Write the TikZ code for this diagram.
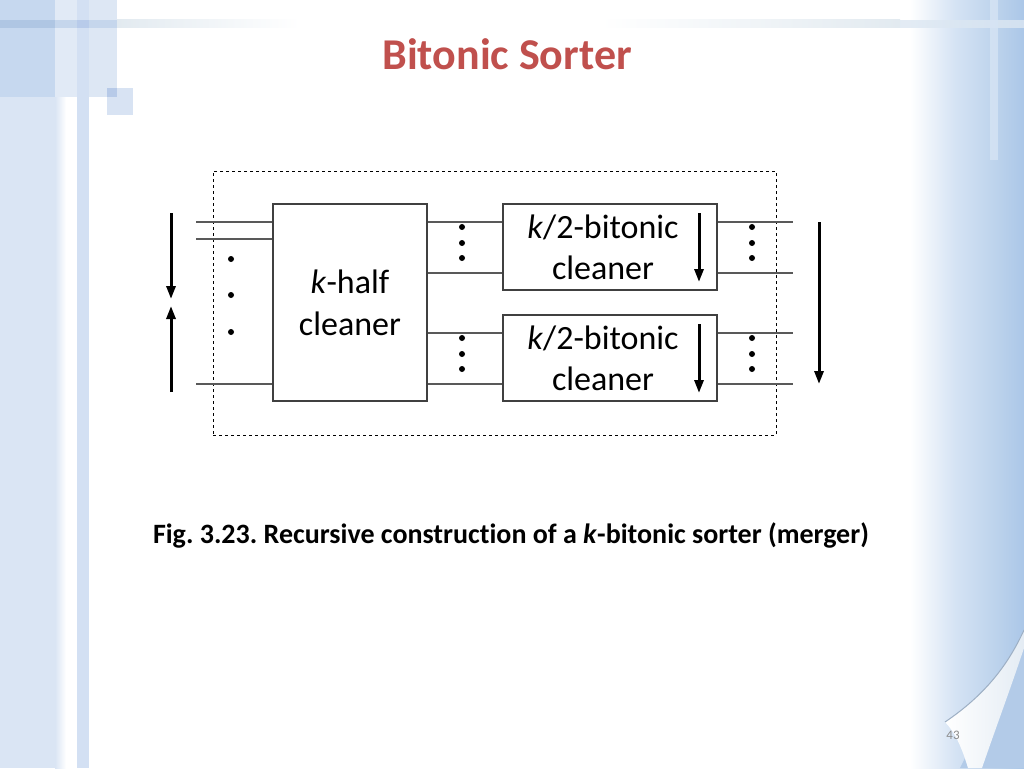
\documentclass[tikz,border=0pt]{standalone}
\usepackage{fontspec}
\setmainfont[Ligatures=CommonOff]{Carlito}
\frenchspacing
\usetikzlibrary{arrows.meta}
\definecolor{titlered}{HTML}{C0504D}
\definecolor{bgA}{HTML}{DAE5F4}
\definecolor{bgAd}{HTML}{C6D8EF}
\definecolor{bgB}{HTML}{E1EAF6}
\definecolor{bgC}{HTML}{D3E0F3}
\definecolor{bgD}{HTML}{DDE7F4}
\definecolor{bgband}{HTML}{AFC6E3}
\definecolor{bgbandm}{HTML}{C5D6EC}
\definecolor{bgbandc}{HTML}{B8CBEA}
\definecolor{bgbandl}{HTML}{E2EAF0}
\definecolor{sqA}{HTML}{D8E3F3}
\definecolor{sqB}{HTML}{B7CAE8}
\definecolor{rbluel}{HTML}{D5E3F4}
\definecolor{rblue}{HTML}{BDD3EC}
\definecolor{rbluedk}{HTML}{ABC7E8}
\definecolor{rband}{HTML}{DCE7F2}
\definecolor{rvert}{HTML}{D6E4F4}
\definecolor{curlbg}{HTML}{B3CBE8}
\definecolor{curlw}{HTML}{E4ECF4}
\definecolor{curlsh}{HTML}{9DAFC4}
\definecolor{wiregray}{HTML}{595959}
\definecolor{boxgray}{HTML}{404040}
\definecolor{pggray}{HTML}{8C8C8C}
\tikzset{
  wire/.style={draw=wiregray, line width=1.3pt},
  box/.style={draw=boxgray, line width=1.3pt, fill=white, inner sep=0pt},
  lbl/.style={font=\fontsize{34}{40}\selectfont, inner sep=0pt, anchor=base},
  bigarrow/.style={line width=3pt, -{Triangle[length=13pt,width=9pt]}},
  dotmark/.style={circle, fill=black, inner sep=0pt, minimum size=6pt},
}
\begin{document}
\begin{tikzpicture}[x=1pt,y=-1pt]
\useasboundingbox (0,0) rectangle (1024,768);
\fill[white] (0,0) rectangle (1024,768);
% ---- left decoration
\fill[bgA] (0,0) rectangle (55,768);
\fill[bgAd] (0,0) rectangle (55,97);
\shade[left color=bgA, right color=white, middle color=white] (55,97) rectangle (77,768);
\fill[bgB] (55,0) rectangle (77,97);
\fill[bgC] (77,0) rectangle (89,768);
\fill[bgD] (89,0) rectangle (117,97);
\fill[bgband] (0,20) rectangle (55,28);
\fill[bgbandm] (55,20) rectangle (117,28);
\fill[bgbandc] (77,20) rectangle (89,28);
\shade[left color=bgbandl, right color=white] (117,20) rectangle (300,28);
\fill[sqA] (107,88) rectangle (133,115);
\fill[sqB] (107,88) rectangle (117,97);
% ---- right decoration
\shade[left color=white, right color=rbluel] (910,0) rectangle (955,768);
\shade[left color=rbluel, right color=rblue] (955,0) rectangle (995,768);
\shade[left color=rblue, right color=rbluedk] (995,0) rectangle (1024,768);
\shade[left color=white, right color=bgbandl] (600,20) rectangle (900,28);
\fill[rband, opacity=0.8] (900,20) rectangle (1024,28);
\fill[rvert, opacity=0.8] (990,0) rectangle (998,160);
% page curl
\fill[curlbg] (960,768) -- (1024,640) -- (1024,768) -- cycle;
\shade[left color=white, right color=curlw]
  (945,722) .. controls (985,695) and (1008,665) .. (1024,630)
  -- (1024,648) .. controls (1010,690) and (995,730) .. (982,768)
  -- (968,768) .. controls (962,748) and (955,732) .. (945,722) -- cycle;
\draw[curlsh, line width=1pt] (945,722) .. controls (985,695) and (1008,665) .. (1024,630);
% ---- title
\node[font=\fontsize{44}{52}\selectfont\bfseries, text=titlered, anchor=base, inner sep=0pt] (title) at (507,69) {Bitonic Sorter};
% ---- dashed frame
\node[draw=black, dashed, line width=0.9pt, minimum width=563pt, minimum height=264pt, inner sep=0pt] (frame) at (494.5,303) {};
% ---- boxes
\node[box, minimum width=154pt, minimum height=197pt] (hc) at (350,302.5) {};
\node[box, minimum width=214pt, minimum height=86pt] (bc1) at (610,247) {};
\node[box, minimum width=214pt, minimum height=86pt] (bc2) at (610,358) {};
\node[lbl] (hct1) at (350,293) {\textit{k}-half};
\node[lbl] (hct2) at (350,335) {cleaner};
\node[lbl] (b1t1) at (603,238) {\textit{k}/2-bitonic};
\node[lbl] (b1t2) at (603,279) {cleaner};
\node[lbl] (b2t1) at (603,349) {\textit{k}/2-bitonic};
\node[lbl] (b2t2) at (603,390) {cleaner};
% ---- wire end coordinates
\coordinate (in1) at (196,222);
\coordinate (in2) at (196,239);
\coordinate (in3) at (196,384);
\coordinate (out1) at (793,222);
\coordinate (out2) at (793,273);
\coordinate (out3) at (793,333);
\coordinate (out4) at (793,384);
% ---- input wires
\draw[wire] (in1) -- (in1 -| hc.west);
\draw[wire] (in2) -- (in2 -| hc.west);
\draw[wire] (in3) -- (in3 -| hc.west);
% ---- middle wires
\draw[wire] (out1 -| hc.east) -- (out1 -| bc1.west);
\draw[wire] (out2 -| hc.east) -- (out2 -| bc1.west);
\draw[wire] (out3 -| hc.east) -- (out3 -| bc2.west);
\draw[wire] (out4 -| hc.east) -- (out4 -| bc2.west);
% ---- output wires
\draw[wire] (out1 -| bc1.east) -- (out1);
\draw[wire] (out2 -| bc1.east) -- (out2);
\draw[wire] (out3 -| bc2.east) -- (out3);
\draw[wire] (out4 -| bc2.east) -- (out4);
% ---- dots
\node[dotmark] (d1) at (231,259) {};
\node[dotmark] (d2) at (231,295) {};
\node[dotmark] (d3) at (231,332) {};
\foreach \x/\n in {462/m, 752/o}{
  \foreach \y/\k in {227/a,243/b,258/c,338/d,354/e,369/f}{
    \node[dotmark] (\n\k) at (\x,\y) {};
  }
}
% ---- arrows
\coordinate (la1) at (171,213); \coordinate (la2) at (171,299);
\coordinate (lb1) at (171,392); \coordinate (lb2) at (171,306);
\coordinate (ra1) at (819,222); \coordinate (ra2) at (819,384);
\coordinate (ia1) at (699,213); \coordinate (ia2) at (699,282);
\coordinate (ib1) at (699,324); \coordinate (ib2) at (699,393);
\draw[bigarrow] (la1) -- (la2);
\draw[bigarrow] (lb1) -- (lb2);
\draw[bigarrow] (ra1) -- (ra2);
\draw[bigarrow] (ia1) -- (ia2);
\draw[bigarrow] (ib1) -- (ib2);
% ---- caption
\node[font=\fontsize{28}{34}\selectfont\bfseries, anchor=base, inner sep=0pt] (cap) at (511,543) {Fig. 3.23. Recursive construction of a \textit{k}-bitonic sorter (merger)};
% ---- page number
\node[font=\fontsize{13}{15}\selectfont, text=pggray, anchor=base, inner sep=0pt] (pg) at (953,739) {43};
\end{tikzpicture}
\end{document}
